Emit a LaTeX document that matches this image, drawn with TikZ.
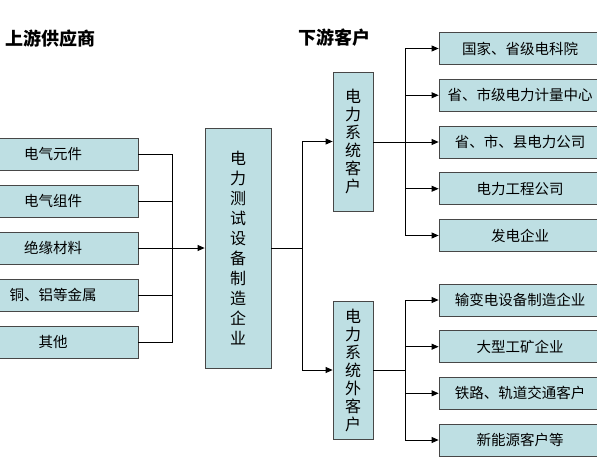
\documentclass[tikz,border=0pt]{standalone}
\usepackage{fontspec}
\usepackage{tikz}
\usetikzlibrary{arrows.meta,positioning,calc}
\newfontfamily\cjk{Noto Sans CJK SC}
\definecolor{boxfill}{HTML}{BEDFE3}

\begin{document}
\begin{tikzpicture}[
  x=1pt, y=-1pt,
  font=\cjk,
  >={Triangle[length=7pt,width=6pt]},
  box/.style={draw=black!72, fill=boxfill, line width=.8pt, minimum height=32pt,
    inner sep=0pt, font=\cjk\fontsize{14.5}{16}\selectfont},
  vbox/.style={draw=black!72, fill=boxfill, line width=.8pt, inner sep=0pt, align=center},
  head/.style={font=\cjk\bfseries\fontsize{18}{20}\selectfont, anchor=west},
  link/.style={draw=black, line width=.8pt}
]
  \useasboundingbox (0,0) rectangle (597,469);
  \fill[white] (0,0) rectangle (597,469);

  % Titles over the two sides.
  \node[head] (uptitle) at (2,39) {上游供应商};
  \node[head] (downtitle) at (295,38) {下游客户};

  % Suppliers feeding the maker.
  \node[box, minimum width=170pt] (sup1) at (53,154) {电气元件};
  \node[box, minimum width=170pt] (sup2) at (53,201) {电气组件};
  \node[box, minimum width=170pt] (sup3) at (53,248) {绝缘材料};
  \node[box, minimum width=170pt] (sup4) at (53,295) {铜、铝等金属};
  \node[box, minimum width=170pt] (sup5) at (53,342) {其他};

  \node[vbox, minimum width=66pt, minimum height=240pt,
    font=\cjk\fontsize{16}{20}\selectfont] (maker) at (238,248)
    {电\\力\\测\\试\\设\\备\\制\\造\\企\\业};

  \coordinate (lbus) at (172,248);
  \draw[link] (sup1.east) -| (lbus);
  \draw[link] (sup5.east) -| (lbus);
  \foreach \i in {2,3,4}
    {\draw[link] (sup\i.east) -- (sup\i.east -| lbus);}
  \draw[link, ->] (lbus) -- (maker.west |- lbus);

  % Two kinds of customers.
  \node[vbox, minimum width=40pt, minimum height=139pt,
    font=\cjk\fontsize{16}{18}\selectfont] (inner) at (353,141.5)
    {电\\力\\系\\统\\客\\户};
  \node[vbox, minimum width=40pt, minimum height=138pt,
    font=\cjk\fontsize{16}{18}\selectfont] (outer) at (353,370)
    {电\\力\\系\\统\\外\\客\\户};

  \coordinate (mbus) at (302,248);
  \draw[link] (maker.east |- mbus) -- (mbus);
  \draw[link, ->] (mbus) |- (inner.west);
  \draw[link, ->] (mbus) |- (outer.west);

  % Customers inside the power system.
  \node[box, minimum width=162pt] (in1) at (520,48.5) {国家、省级电科院};
  \node[box, minimum width=162pt] (in2) at (520,95.25) {省、市级电力计量中心};
  \node[box, minimum width=162pt] (in3) at (520,142) {省、市、县电力公司};
  \node[box, minimum width=162pt] (in4) at (520,188.75) {电力工程公司};
  \node[box, minimum width=162pt] (in5) at (520,235.5) {发电企业};

  \coordinate (ibus) at (405,142);
  \draw[link] (inner.east |- ibus) -- (ibus);
  \foreach \i in {1,...,5}
    {\draw[link, ->] (ibus) |- (in\i.west);}

  % Customers outside the power system.
  \node[box, minimum width=162pt] (out1) at (520,300) {输变电设备制造企业};
  \node[box, minimum width=162pt] (out2) at (520,346.7) {大型工矿企业};
  \node[box, minimum width=162pt] (out3) at (520,393.3) {铁路、轨道交通客户};
  \node[box, minimum width=162pt] (out4) at (520,440) {新能源客户等};

  \coordinate (obus) at (405,370);
  \draw[link] (outer.east |- obus) -- (obus);
  \foreach \i in {1,...,4}
    {\draw[link, ->] (obus) |- (out\i.west);}

\end{tikzpicture}
\end{document}
